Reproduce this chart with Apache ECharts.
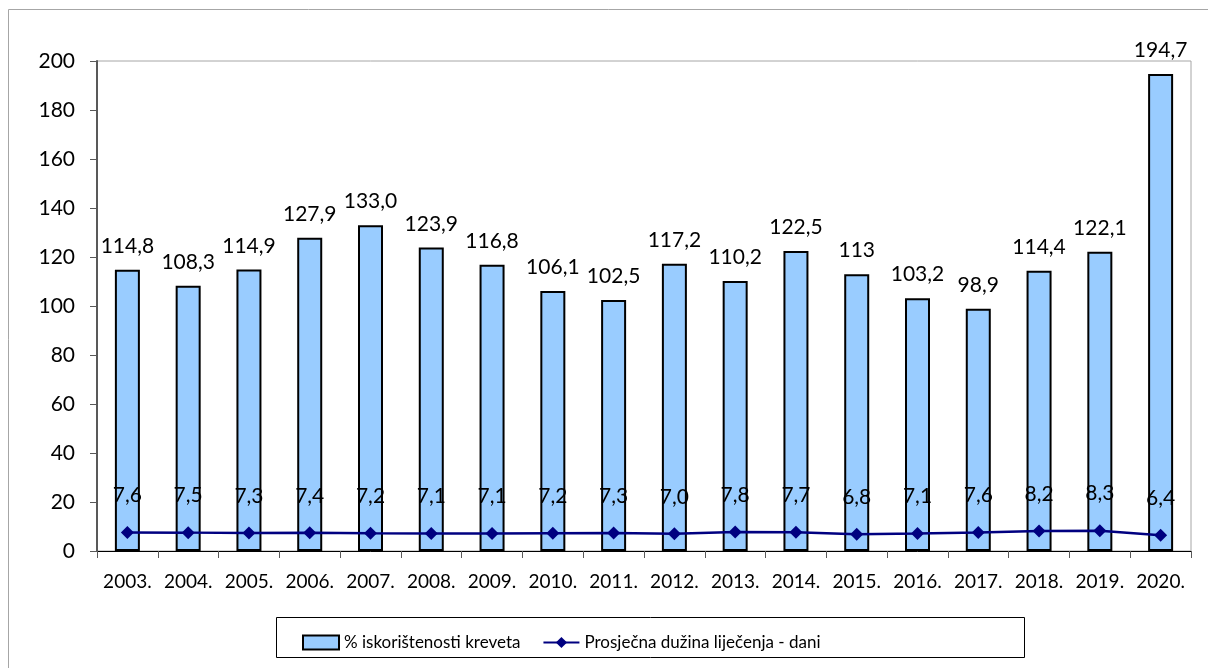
<!DOCTYPE html>
<html><head><meta charset="utf-8">
<script src="https://cdn.jsdelivr.net/npm/echarts@6/dist/echarts.min.js"></script>
<style>html,body{margin:0;padding:0;background:#fff}#c{width:1208px;height:668px}</style>
</head><body><div id="c"></div>
<script>
const years = ['2003.','2004.','2005.','2006.','2007.','2008.','2009.','2010.','2011.','2012.','2013.','2014.','2015.','2016.','2017.','2018.','2019.','2020.'];
const occupancy = [114.8,108.3,114.9,127.9,133.0,123.9,116.8,106.1,102.5,117.2,110.2,122.5,113,103.2,98.9,114.4,122.1,194.7];
const occupancyLabels = ['114,8','108,3','114,9','127,9','133,0','123,9','116,8','106,1','102,5','117,2','110,2','122,5','113','103,2','98,9','114,4','122,1','194,7'];
const stayDays = [7.6,7.5,7.3,7.4,7.2,7.1,7.1,7.2,7.3,7.0,7.8,7.7,6.8,7.1,7.6,8.2,8.3,6.4];
const yTicks = [0,20,40,60,80,100,120,140,160,180,200];

const FONT = 'Lato, sans-serif';
const chart = echarts.init(document.getElementById('c'), null, {renderer:'canvas'});
chart.setOption({
  animation:false,
  backgroundColor:'#fff',
  textStyle:{fontFamily:FONT},
  graphic:[
    {type:'rect', shape:{x:8.5,y:9.5,width:1240,height:700}, style:{fill:'none',stroke:'#a6a6a6',lineWidth:1}, z:-10},
    {type:'rect', shape:{x:276.5,y:617.5,width:748,height:40}, style:{fill:'#fff',stroke:'#000',lineWidth:1}, z:-5}
  ],
  grid:{left:97,right:17,top:61,bottom:117,show:true,borderColor:'#a6a6a6',borderWidth:1},
  legend:{
    left:297, top:629, itemWidth:36, itemHeight:14, itemGap:22,
    textStyle:{fontSize:17,color:'#000',fontFamily:FONT},
    data:[
      {name:'% iskorištenosti kreveta', icon:'rect', itemStyle:{color:'#99ccff',borderColor:'#000',borderWidth:2}},
      {name:'Prosječna dužina liječenja - dani'}
    ]
  },
  xAxis:{
    type:'category', data:years, boundaryGap:true,
    axisLine:{lineStyle:{color:'#000',width:1}},
    axisTick:{show:true,alignWithLabel:false,length:7,lineStyle:{color:'#595959'}},
    axisLabel:{color:'#000',fontSize:19,margin:21,fontFamily:FONT,interval:0}
  },
  yAxis:{
    type:'value', min:0, max:200, interval:20,
    axisLine:{show:true,lineStyle:{color:'#595959',width:2}},
    axisTick:{show:true,length:7,lineStyle:{color:'#595959'}},
    splitLine:{show:false},
    axisLabel:{color:'#000',fontSize:21,margin:22,fontFamily:FONT,
      formatter:v=>yTicks.includes(v)?String(v):''}
  },
  series:[
    {
      name:'% iskorištenosti kreveta', type:'bar', data:occupancy, barWidth:25,
      itemStyle:{color:'#99ccff',borderColor:'#000',borderWidth:2},
      label:{show:true,position:'top',distance:13,color:'#000',fontSize:21,fontFamily:FONT,
        formatter:p=>occupancyLabels[p.dataIndex]}
    },
    {
      name:'Prosječna dužina liječenja - dani', type:'line', data:stayDays,
      symbol:'diamond', symbolSize:13,
      lineStyle:{color:'#000080',width:2.5}, itemStyle:{color:'#000080'},
      label:{show:true,position:'top',distance:20,color:'#000',fontSize:21,fontFamily:FONT,
        formatter:p=>p.value.toFixed(1).replace('.',',')},
      z:5
    }
  ]
});
</script></body></html>
